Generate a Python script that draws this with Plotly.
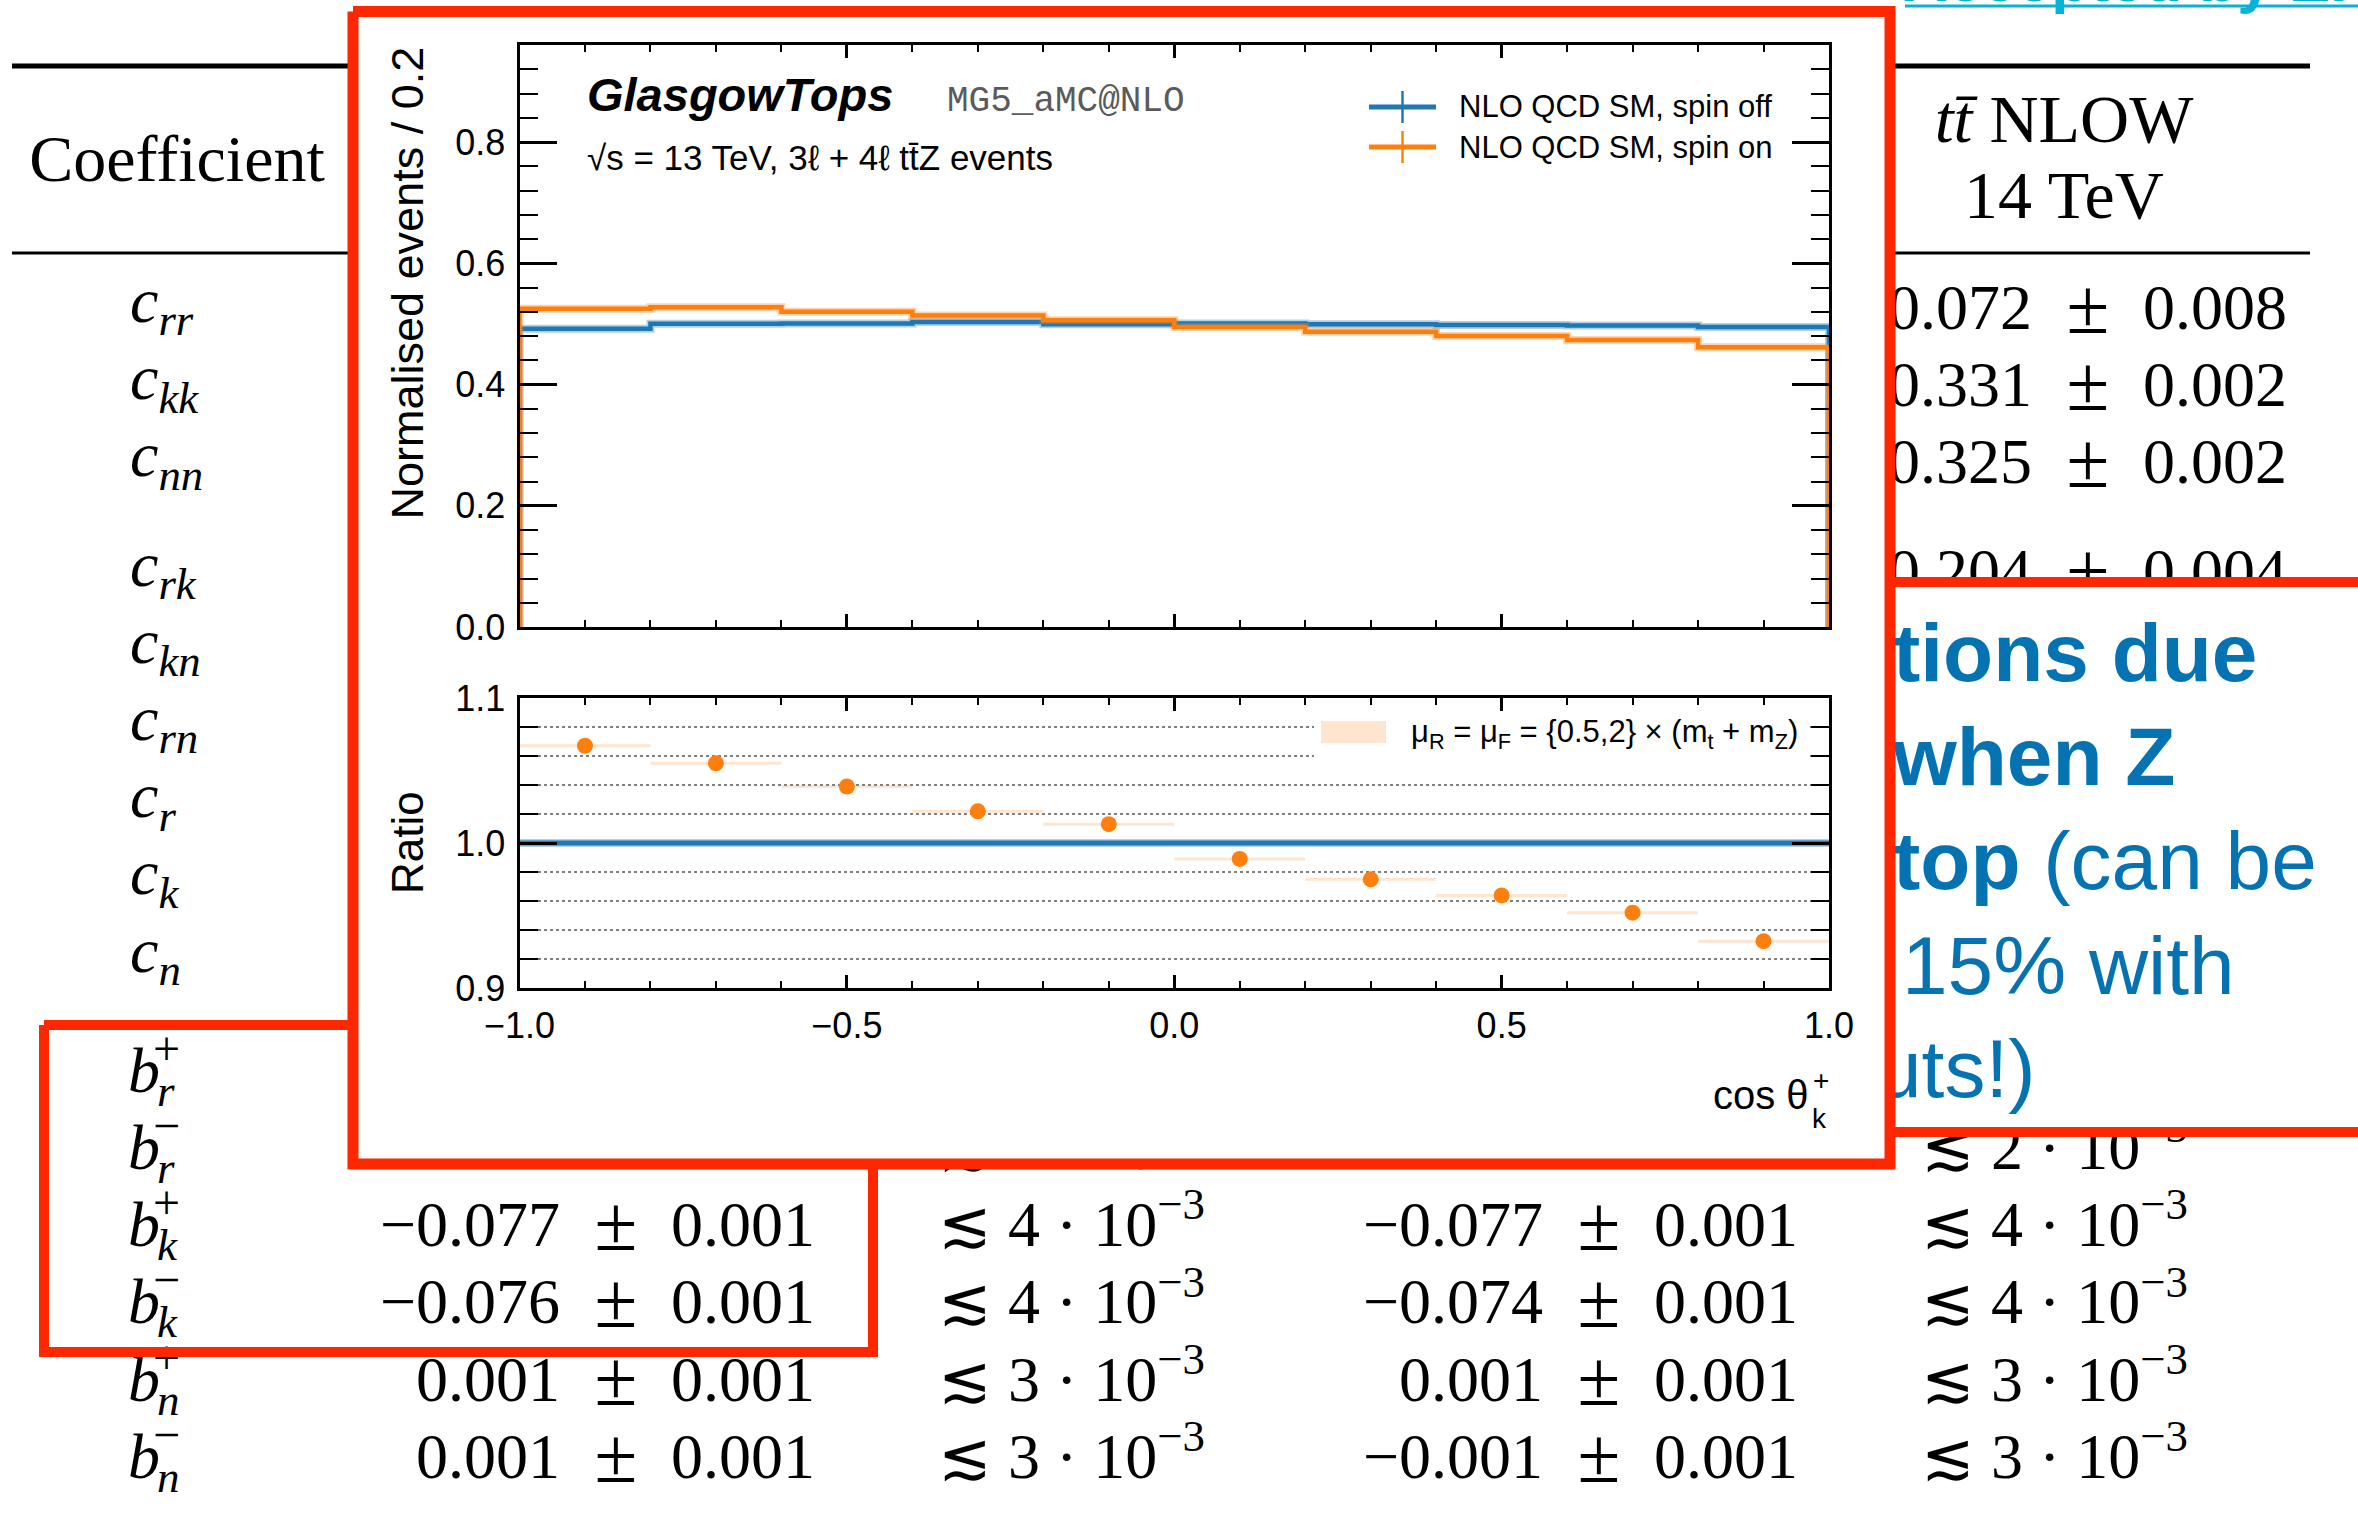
import plotly.graph_objects as go

W, H = 2358, 1513

# ---------------------------------------------------------------
# cos(theta_k^+) distribution, normalised events per 0.2
# ---------------------------------------------------------------
bin_edges = [-1.0, -0.8, -0.6, -0.4, -0.2, 0.0, 0.2, 0.4, 0.6, 0.8, 1.0]
spin_off = [0.492, 0.500, 0.5005, 0.503, 0.4995, 0.5005, 0.4995, 0.498, 0.4975, 0.495]
spin_on = [0.525, 0.5275, 0.520, 0.514, 0.506, 0.495, 0.487, 0.480, 0.4736, 0.4615]

series_names = ["NLO QCD SM, spin off", "NLO QCD SM, spin on"]
scale_label = "μ<sub>R</sub> = μ<sub>F</sub> = {0.5,2} × (m<sub>t</sub> + m<sub>Z</sub>)"

# ---------------------------------------------------------------
# Coefficient table shown behind the plot
# ---------------------------------------------------------------
coeff_base = ["c"] * 9 + ["b"] * 6
coeff_sub = ["rr", "kk", "nn", "rk", "kn", "rn", "r", "k", "n", "r", "r", "k", "k", "n", "n"]
coeff_sup = [""] * 9 + ["+", "−", "+", "−", "+", "−"]

ttz_val = [None] * 11 + [-0.077, -0.076, 0.001, 0.001]
ttz_err = [None] * 11 + [0.001, 0.001, 0.001, 0.001]
ttz_bound = [None] * 10 + [2, 4, 4, 3, 3]
tt_val = [None] * 11 + [-0.077, -0.074, 0.001, -0.001]
tt_err = [None] * 11 + [0.001, 0.001, 0.001, 0.001]
tt_bound = [None] * 10 + [2, 4, 4, 3, 3]
nlow_val = [0.072, 0.331, 0.325, 0.204] + [None] * 11
nlow_err = [0.008, 0.002, 0.002, 0.004] + [None] * 11

side_note = ["<b>tions due</b>", "<b>when Z</b>", "<b>top</b> (can be", "15% with", "uts!)"]
link_text = "<b>Accepted by EPJC</b>"

SERIF = "Liberation Serif"
SANS = "Liberation Sans"
MONO = "Liberation Mono"
RED = "#fe2700"
SLIDE_BLUE = "#0573b1"
LINK_CYAN = "#08b2d4"
C_OFF = "#1f77b4"
C_ON = "#ff7f0e"


def fx(p):
    return p / W


def fy(p):
    return 1 - p / H


fig = go.Figure()


def canvas_text(xs, baselines, texts, size, anchor="left", family=SERIF, color="black"):
    pos = {"left": "middle right", "right": "middle left", "center": "middle center"}[anchor]
    fig.add_trace(go.Scatter(
        x=list(xs), y=[b - 0.25 * size for b in baselines], text=list(texts), mode="text",
        textposition=pos, textfont=dict(family=family, size=size, color=color),
        xaxis="x", yaxis="y", hoverinfo="skip", showlegend=False, cliponaxis=True))


def canvas_path(xs, ys, width, color, fill=None):
    fig.add_trace(go.Scatter(
        x=xs, y=ys, mode="lines", line=dict(color=color, width=width),
        fill="toself" if fill else None, fillcolor=fill,
        xaxis="x", yaxis="y", hoverinfo="skip", showlegend=False))


# row baselines of the table
row_base = []
y = 329.0
for i in range(len(coeff_base)):
    if i == 3:
        y += 32
    if i == 9:
        y += 36
    row_base.append(y)
    y += 77.2

# rules and headers
canvas_path([12, 2310], [66, 66], 5, "black")
canvas_path([12, 2310], [253, 253], 3, "black")
canvas_text([177], [181], ["Coefficient"], 66, "center")
canvas_text([2064, 2064], [142, 218], ["<i>tt\u0304</i> NLOW", "14 TeV"], 68, "center")

# coefficient names
c_idx = [i for i, s in enumerate(coeff_sup) if s == ""]
b_idx = [i for i, s in enumerate(coeff_sup) if s != ""]
canvas_text([130] * len(c_idx), [row_base[i] - 7 for i in c_idx],
            [f"<i>{coeff_base[i]}<sub>{coeff_sub[i]}</sub></i>" for i in c_idx], 64)
canvas_text([128] * len(b_idx), [row_base[i] for i in b_idx],
            [f"<i>{coeff_base[i]}</i>" for i in b_idx], 64)
canvas_text([153] * len(b_idx), [row_base[i] - 27 for i in b_idx],
            [coeff_sup[i] for i in b_idx], 48)
canvas_text([157] * len(b_idx), [row_base[i] + 14 for i in b_idx],
            [f"<i>{coeff_sub[i]}</i>" for i in b_idx], 45)


def fmt(v):
    return f"{v:.3f}".replace("-", "−")


def pm_column(pm_x, vals, errs):
    idx = [i for i, v in enumerate(vals) if v is not None]
    ys = [row_base[i] for i in idx]
    canvas_text([pm_x - 56] * len(idx), ys, [fmt(vals[i]) for i in idx], 64, "right")
    canvas_text([pm_x] * len(idx), [v + 4 for v in ys], ["±"] * len(idx), 78, "center")
    canvas_text([pm_x + 55] * len(idx), ys, [fmt(errs[i]) for i in idx], 64, "left")


def bound_column(left_x, mant):
    idx = [i for i, m in enumerate(mant) if m is not None]
    canvas_text([left_x] * len(idx), [row_base[i] for i in idx],
                [f"≲ {mant[i]} · 10<sup>−3</sup>" for i in idx], 64, "left")


pm_column(616, ttz_val, ttz_err)
bound_column(938, ttz_bound)
pm_column(1599, tt_val, tt_err)
bound_column(1921, tt_bound)
pm_column(2088, nlow_val, nlow_err)

# link line at the top edge (clipped by the canvas)
canvas_text([1903], [1], [link_text], 62, "left", SANS, LINK_CYAN)
canvas_path([1905, 2370], [6, 6], 3, LINK_CYAN)

# highlight box around the b_r / b_k rows
canvas_path([44, 873, 873, 44, 44], [1025, 1025, 1352, 1352, 1025], 10, RED)

# side note box
canvas_path([1890, 2370, 2370, 1890, 1890], [582, 582, 1132, 1132, 582], 0, "white", fill="white")
canvas_path([1890, 2370, None, 1890, 2370], [582, 582, None, 1132, 1132], 10, RED)
canvas_text([1893, 1893, 1893, 1902, 1876], [681, 785, 889, 994, 1097], side_note, 82,
            "left", SANS, SLIDE_BLUE)

# frame of the inset plot
canvas_path([353, 1890, 1890, 353, 353], [11.5, 11.5, 1164, 1164, 11.5], 11, RED, fill="white")

# ---------------------------------------------------------------
# Inset plot: upper panel histograms
# ---------------------------------------------------------------
def hist_xy(edges, vals):
    xs = [edges[0]] + list(edges) + [edges[-1]]
    ys = [0] + list(vals) + [vals[-1], 0]
    return xs, ys


for vals, col, band in [(spin_off, C_OFF, "rgba(31,119,180,0.35)"),
                        (spin_on, C_ON, "rgba(255,127,14,0.35)")]:
    hx, hy = hist_xy(bin_edges, vals)
    fig.add_trace(go.Scatter(x=hx, y=hy, mode="lines", line=dict(color=band, width=8, shape="hv"),
                             xaxis="x2", yaxis="y2", hoverinfo="skip", showlegend=False))
    fig.add_trace(go.Scatter(x=hx, y=hy, mode="lines", line=dict(color=col, width=4.5, shape="hv"),
                             xaxis="x2", yaxis="y2", hoverinfo="skip", showlegend=False))

# lower panel: ratio to spin off
centers = [(a + b) / 2 for a, b in zip(bin_edges[:-1], bin_edges[1:])]
halfw = [(b - a) / 2 for a, b in zip(bin_edges[:-1], bin_edges[1:])]
ratio_off = [v / v for v in spin_off]
ratio_on = [a / b for a, b in zip(spin_on, spin_off)]

fig.add_trace(go.Scatter(x=bin_edges, y=ratio_off + [ratio_off[-1]], mode="lines",
                         line=dict(color="rgba(31,119,180,0.35)", width=8, shape="hv"),
                         xaxis="x3", yaxis="y3", hoverinfo="skip", showlegend=False))
fig.add_trace(go.Scatter(x=bin_edges, y=ratio_off + [ratio_off[-1]], mode="lines",
                         line=dict(color=C_OFF, width=5, shape="hv"),
                         xaxis="x3", yaxis="y3", hoverinfo="skip", showlegend=False))
fig.add_trace(go.Scatter(x=centers, y=ratio_on, mode="markers",
                         marker=dict(color=C_ON, size=16, line=dict(width=0)),
                         error_x=dict(type="data", array=halfw, visible=True,
                                      color="rgba(255,127,14,0.2)", thickness=3, width=0),
                         xaxis="x3", yaxis="y3", hoverinfo="skip", showlegend=False))

# ---------------------------------------------------------------
# Axes
# ---------------------------------------------------------------
x_dom = [fx(519.5), fx(1829)]
tickfont = dict(family=SANS, size=36, color="black")
xcommon = dict(range=[-1, 1], domain=x_dom, showgrid=False, zeroline=False, showline=True,
               linecolor="black", linewidth=3, mirror="ticks", ticks="inside", ticklen=13,
               tickwidth=2.5, tickcolor="black", tick0=-1, dtick=0.5, fixedrange=True,
               minor=dict(ticks="inside", ticklen=7, tickwidth=2, tickcolor="black", tick0=-1, dtick=0.1),
               tickfont=tickfont, tickformat=".1f", automargin=False)
ycommon = dict(showgrid=False, zeroline=False, showline=True, linecolor="black", linewidth=3,
               mirror="ticks", ticks="inside", ticklen=37, tickwidth=2.5, tickcolor="black",
               tickfont=tickfont, tickformat=".1f", fixedrange=True, ticklabelstandoff=4,
               automargin=False)

fig.update_layout(
    width=W, height=H, autosize=False,
    margin=dict(l=0, r=0, t=0, b=0, pad=0, autoexpand=False),
    paper_bgcolor="white", plot_bgcolor="white", showlegend=False, hovermode=False,
    xaxis=dict(domain=[0, 1], range=[0, W], visible=False, fixedrange=True, automargin=False),
    yaxis=dict(domain=[0, 1], range=[H, 0], visible=False, fixedrange=True, automargin=False),
    xaxis2=dict(xcommon, anchor="y2", showticklabels=False),
    yaxis2=dict(ycommon, anchor="x2", domain=[fy(627), fy(45)], range=[0, 0.96], tick0=0, dtick=0.2,
                minor=dict(ticks="inside", ticklen=18, tickwidth=2, tickcolor="black", tick0=0, dtick=0.04)),
    xaxis3=dict(xcommon, anchor="y3", showticklabels=True, ticklabelstandoff=4),
    yaxis3=dict(ycommon, anchor="x3", domain=[fy(988), fy(698)], range=[0.9, 1.1], tick0=0.9, dtick=0.1,
                minor=dict(ticks="inside", ticklen=18, tickwidth=2, tickcolor="black", tick0=0.9, dtick=0.02,
                           showgrid=True, griddash="dot", gridcolor="#7f7f7f", gridwidth=2)),
)

# ---------------------------------------------------------------
# Labels and legends
# ---------------------------------------------------------------
annotations = []


def ann(text, x, baseline, size, xanchor="left", family=SANS, color="black", shift=0.35):
    annotations.append(dict(text=text, x=fx(x), y=fy(baseline - shift * size), xref="paper", yref="paper",
                            xanchor=xanchor, yanchor="middle", showarrow=False,
                            font=dict(family=family, size=size, color=color)))


ann("<b><i>GlasgowTops</i></b>", 585, 111, 47)
ann("MG5_aMC@NLO", 945, 111, 36, family=MONO, color="#5a5a5a", shift=0.27)
ann("√s = 13 TeV, 3ℓ + 4ℓ tt\u0304Z events", 585, 170, 35)
ann(series_names[0], 1457, 117, 31)
ann(series_names[1], 1457, 158, 31)
ann(scale_label, 1409, 745, 31)
ann("cos θ", 1811, 1109, 40, xanchor="right")
ann("+", 1821, 1090, 28, xanchor="center")
ann("k", 1810, 1128, 28)

annotations.append(dict(text="Normalised events / 0.2", x=fx(407), y=fy(45), xref="paper", yref="paper",
                        xanchor="center", yanchor="top", textangle=-90, showarrow=False,
                        font=dict(family=SANS, size=45, color="black")))
annotations.append(dict(text="Ratio", x=fx(407), y=fy(843), xref="paper", yref="paper",
                        xanchor="center", yanchor="middle", textangle=-90, showarrow=False,
                        font=dict(family=SANS, size=44, color="black")))

shapes = []


def pline(x0, y0, x1, y1, color, width):
    shapes.append(dict(type="line", xref="paper", yref="paper", x0=fx(x0), y0=fy(y0), x1=fx(x1), y1=fy(y1),
                       line=dict(color=color, width=width), layer="above"))


# legend glyphs (errorbar style)
for col, yc in [(C_OFF, 107), (C_ON, 147)]:
    pline(1369, yc, 1436, yc, col, 5)
    pline(1402.5, yc - 16, 1402.5, yc + 16, col, 2.5)

# ratio-panel legend: opaque box and scale-band patch
shapes.append(dict(type="rect", xref="paper", yref="paper", x0=fx(1314), x1=fx(1808), y0=fy(766), y1=fy(712),
                   fillcolor="white", line=dict(width=0), layer="above"))
shapes.append(dict(type="rect", xref="paper", yref="paper", x0=fx(1321), x1=fx(1386), y0=fy(743), y1=fy(721),
                   fillcolor="rgba(255,127,14,0.2)", line=dict(width=0), layer="above"))

fig.update_layout(annotations=annotations, shapes=shapes)

fig.write_html("out.html")
